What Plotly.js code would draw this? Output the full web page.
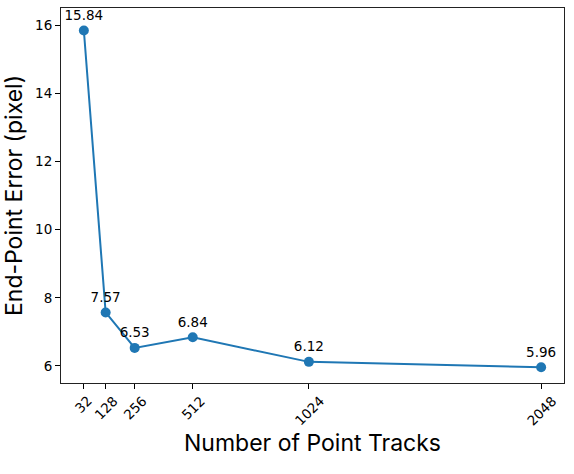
<!DOCTYPE html>
<html>
<head>
<meta charset="utf-8">
<script src="https://cdn.plot.ly/plotly-3.0.1.min.js"></script>
<style>html,body{margin:0;padding:0;background:#fff;}#chart{width:574px;height:474px;}</style>
</head>
<body>
<div id="chart"></div>
<script>
const tracks = [32, 128, 256, 512, 1024, 2048];
const epe = [15.84, 7.57, 6.53, 6.84, 6.12, 5.96];
const tickLabels = ["32", "128", "256", "512", "1024", "2048"];
const yTicks = [6, 8, 10, 12, 14, 16];

const tickFont = {family: "DejaVu Sans", size: 13.5, color: "#000"};
const titleFont = {family: "Inter", size: 23, color: "#000"};

const trace = {
  x: tracks,
  y: epe,
  mode: "lines+markers+text",
  line: {color: "#1f77b4", width: 2},
  marker: {color: "#1f77b4", size: 10},
  text: epe.map(v => v.toFixed(2)),
  textposition: "top center",
  textfont: {family: "DejaVu Sans", size: 13.5, color: "#000"},
  cliponaxis: false,
  hoverinfo: "none"
};

const tickAnns = tracks.map((t, i) => ({
  x: t, xref: "x", y: 0, yref: "paper",
  text: tickLabels[i], showarrow: false,
  textangle: -45, xanchor: "center", yanchor: "top",
  yshift: -7, font: tickFont
}));

const layout = {
  width: 574, height: 474,
  margin: {l: 61, r: 10, t: 8, b: 91},
  paper_bgcolor: "#fff", plot_bgcolor: "#fff",
  showlegend: false,
  xaxis: {
    range: [-68.8, 2148.8],
    tickvals: tracks,
    showticklabels: false,
    ticks: "outside", ticklen: 5, tickwidth: 1, tickcolor: "#000",
    showgrid: false, zeroline: false,
    showline: true, linecolor: "#222", linewidth: 1, mirror: true,
    title: {text: "Number of Point Tracks", font: titleFont, standoff: 46}
  },
  yaxis: {
    range: [5.5, 16.5],
    tickvals: yTicks,
    ticktext: yTicks.map(String),
    tickfont: tickFont,
    ticks: "outside", ticklen: 5, tickwidth: 1, tickcolor: "#000",
    showgrid: false, zeroline: false,
    showline: true, linecolor: "#222", linewidth: 1, mirror: true,
    title: {text: "End-Point Error (pixel)", font: titleFont, standoff: 15}
  },
  annotations: tickAnns
};

Plotly.newPlot("chart", [trace], layout, {staticPlot: true, displayModeBar: false});
</script>
</body>
</html>
